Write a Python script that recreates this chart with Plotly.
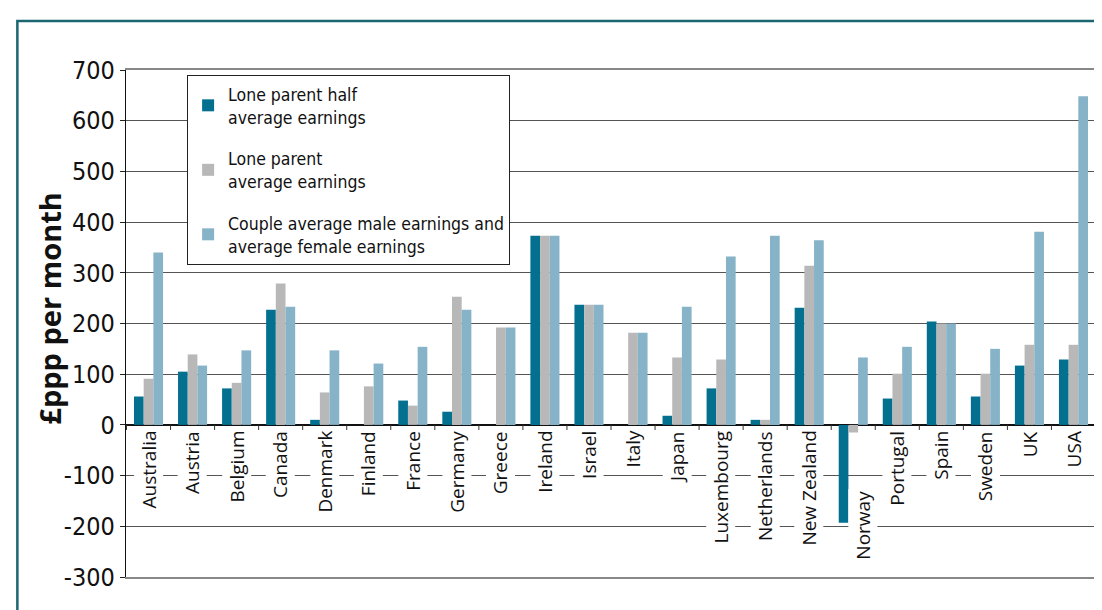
import plotly.graph_objects as go

countries = ["Australia", "Austria", "Belgium", "Canada", "Denmark", "Finland",
             "France", "Germany", "Greece", "Ireland", "Israel", "Italy", "Japan",
             "Luxembourg", "Netherlands", "New Zealand", "Norway", "Portugal",
             "Spain", "Sweden", "UK", "USA"]

lone_half = [56, 105, 72, 227, 10, 0, 48, 26, 0, 373, 237, 0, 18,
             72, 10, 231, -193, 52, 204, 56, 117, 129]
lone_avg = [91, 139, 83, 279, 64, 76, 38, 253, 192, 373, 237, 182, 133,
            129, 10, 314, -15, 101, 200, 101, 158, 158]
couple_avg = [340, 117, 147, 233, 147, 121, 154, 227, 192, 373, 237, 182, 233,
              332, 373, 364, 133, 154, 200, 150, 381, 648]

series_names = ["Lone parent half<br>average earnings",
                "Lone parent<br>average earnings",
                "Couple average male earnings and<br>average female earnings"]
colors = ["#037090", "#B8B8B8", "#86B3C7"]

y_ticks = [-300, -200, -100, 0, 100, 200, 300, 400, 500, 600, 700]
y_ticktext = [str(v) for v in y_ticks]

NARROW = "DejaVu Sans Condensed, Noto Sans"

fig = go.Figure()
for i, (vals, name) in enumerate(zip([lone_half, lone_avg, couple_avg], series_names)):
    fig.add_trace(go.Bar(x=countries, y=vals, name=name, marker_color=colors[i],
                         marker_line_width=0, legendgroup=f"g{i}"))

# category labels sit just under the zero line, like the original
for c in countries:
    shift_x, shift_y = (10, -64) if c == "Norway" else (0, -4)
    fig.add_annotation(x=c, y=0, xref="x", yref="y", text=c, showarrow=False,
                       textangle=-90, yanchor="top", xanchor="center",
                       xshift=shift_x, yshift=shift_y, bgcolor="white", borderpad=1,
                       font=dict(family="Open Sans", size=19, color="#111"))

# small tick marks on the zero line between categories
for i in range(len(countries) + 1):
    fig.add_shape(type="line", xref="x", yref="y", x0=i - 0.5, x1=i - 0.5,
                  y0=0, y1=-10, line=dict(color="#333", width=1))

fig.add_annotation(x=-0.079, y=0.53, xref="paper", yref="paper", text="<b>£ppp per month</b>",
                   showarrow=False, textangle=-90, xanchor="center", yanchor="middle",
                   font=dict(family="Open Sans", size=29, color="#111"))

# teal outer frame
fig.add_shape(type="rect", xref="paper", yref="paper", x0=-0.112, x1=1.05,
              y0=-0.12, y1=1.0966, line=dict(color="#1B6670", width=2.5), layer="below")

fig.update_layout(
    width=1102, height=610,
    margin=dict(l=118, r=14, t=62, b=41),
    paper_bgcolor="white", plot_bgcolor="white",
    barmode="group", bargap=0.34, bargroupgap=0,
    showlegend=True,
    legend=dict(x=0.063, y=0.99, xanchor="left", yanchor="top",
                bgcolor="white", bordercolor="#222", borderwidth=1,
                traceorder="grouped", tracegroupgap=16,
                font=dict(family=NARROW, size=17.5, color="#111")),
    xaxis=dict(showticklabels=False, ticks="", showgrid=False, showline=True,
               linecolor="#888", linewidth=2, mirror=True, zeroline=False),
    yaxis=dict(range=[-300, 700], tickvals=y_ticks, ticktext=y_ticktext,
               ticks="outside", ticklen=5, tickcolor="#222",
               showgrid=True, gridcolor="#555", gridwidth=1.3,
               zeroline=True, zerolinecolor="#111", zerolinewidth=1.5,
               showline=True, linecolor="#111", linewidth=1.3,
               tickfont=dict(family=NARROW, size=25, color="#111")),
)

fig.write_html("out.html")
